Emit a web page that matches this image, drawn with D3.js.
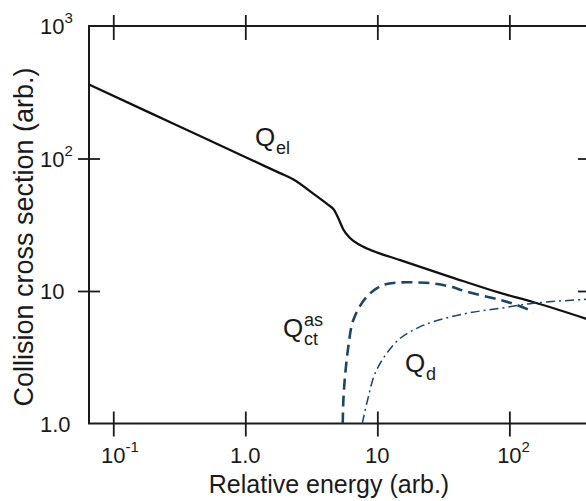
<!DOCTYPE html>
<html><head><meta charset="utf-8">
<script src="https://cdn.jsdelivr.net/npm/d3@7"></script>
<style>body{margin:0;background:#fff}svg{display:block}text{font-family:"Liberation Sans",Arial,sans-serif;fill:#1a1a1a}</style>
</head><body><svg id="c" width="586" height="501"></svg>
<script>
// ---- data ----
const xTickVals = [0.1, 1, 10, 100];
const xTickBase = ["10", "1.0", "10", "10"];
const xTickExp  = ["-1", "", "", "2"];
const yTickVals = [1, 10, 100, 1000];
const yTickBase = ["1.0", "10", "10", "10"];
const yTickExp  = ["", "", "2", "3"];

const elEnergy = [0.0655, 0.190, 0.454, 1.085, 1.83, 2.30, 3.37, 4.16, 4.70, 5.13, 5.50, 6.21, 7.39, 8.36, 14.9, 35.6, 85.1, 151, 408];
const elQ      = [362, 221, 148, 98.8, 77.6, 69.8, 53.1, 45.4, 40.9, 34.4, 29.4, 25.1, 22.2, 20.9, 17.1, 12.8, 9.67, 8.26, 6.04];

const ctEnergy = [5.47, 5.53, 5.69, 6.03, 6.58, 8.32, 11.1, 14.9, 19.9, 26.6, 35.6, 47.6, 85.1, 114, 152];
const ctQ      = [1.0, 1.50, 2.26, 3.80, 6.04, 9.06, 11.1, 11.6, 11.6, 11.4, 10.8, 9.88, 8.55, 7.84, 6.98];

const dEnergy = [7.69, 8.32, 9.61, 11.8, 14.9, 19.9, 26.6, 47.6, 85.1, 152, 408];
const dQ      = [1.0, 1.42, 2.39, 3.39, 4.40, 5.23, 5.87, 6.79, 7.40, 8.08, 8.70];

// ---- layout ----
const svg = d3.select("#c");
const L = 89, R = 590, T = 26, B = 423.5;
const x = d3.scaleLog().domain([0.0655, 408]).range([L, R]);
const y = d3.scaleLog().domain([1, 1000]).range([B, T]);
const ink = "#1a1a1a";

// frame
svg.append("rect").attr("x", L).attr("y", T).attr("width", R - L).attr("height", B - T)
  .attr("fill", "none").attr("stroke", ink).attr("stroke-width", 2);

const gB = svg.append("g").attr("transform", `translate(0,${B})`)
  .call(d3.axisBottom(x).tickValues(xTickVals).tickSize(12).tickFormat(""));
gB.select(".domain").remove();
gB.selectAll(".tick line").attr("y1", -12).attr("y2", 13).attr("stroke", ink).attr("stroke-width", 1.8);

const gT = svg.append("g").attr("transform", `translate(0,${T})`)
  .call(d3.axisTop(x).tickValues(xTickVals).tickSize(12).tickFormat(""));
gT.select(".domain").remove();
gT.selectAll(".tick line").attr("y1", -11).attr("y2", 14).attr("stroke", ink).attr("stroke-width", 1.8);

const innerY = [10, 100];
const gL = svg.append("g").attr("transform", `translate(${L},0)`)
  .call(d3.axisLeft(y).tickValues(innerY).tickSize(11).tickFormat(""));
gL.select(".domain").remove();
gL.selectAll(".tick line").attr("x1", -11).attr("x2", 11).attr("stroke", ink).attr("stroke-width", 1.8);

const gR = svg.append("g").attr("transform", `translate(${R},0)`)
  .call(d3.axisRight(y).tickValues(innerY).tickSize(11).tickFormat(""));
gR.select(".domain").remove();
gR.selectAll(".tick line").attr("x1", -12).attr("x2", 12).attr("stroke", ink).attr("stroke-width", 1.8);

// x tick labels
xTickVals.forEach((v, i) => {
  const t = svg.append("text").attr("x", x(v)).attr("y", 463).attr("font-size", 22)
    .attr("text-anchor", "middle").text(xTickBase[i]);
  if (xTickExp[i]) {
    const w = t.node().getComputedTextLength();
    svg.append("text").attr("x", x(v) + w / 2).attr("y", 452).attr("font-size", 15)
      .text(xTickExp[i]);
  }
});
// y tick labels
yTickVals.forEach((v, i) => {
  const yy = y(v) + 8;
  const t = svg.append("text").attr("x", 40).attr("y", yy).attr("font-size", 22).text(yTickBase[i]);
  if (yTickExp[i]) {
    const w = t.node().getComputedTextLength();
    svg.append("text").attr("x", 40 + w).attr("y", yy - 11).attr("font-size", 15).text(yTickExp[i]);
  }
});

// axis titles
svg.append("text").attr("x", 329).attr("y", 493).attr("font-size", 25)
  .attr("text-anchor", "middle").text("Relative energy (arb.)");
svg.append("text").attr("transform", "translate(33,237) rotate(-90)").attr("font-size", 27)
  .attr("text-anchor", "middle").text("Collision cross section (arb.)");

// curves
svg.append("clipPath").attr("id", "pc").append("rect")
  .attr("x", L).attr("y", T).attr("width", R - L).attr("height", B - T);
const line = d3.line().x(d => x(d[0])).y(d => y(d[1])).curve(d3.curveMonotoneX);
const lineC = d3.line().x(d => x(d[0])).y(d => y(d[1])).curve(d3.curveCatmullRom.alpha(0.5));

svg.append("path").attr("clip-path", "url(#pc)")
  .attr("d", line(elEnergy.map((e, i) => [e, elQ[i]])))
  .attr("fill", "none").attr("stroke", "#111").attr("stroke-width", 2.3);

svg.append("path").attr("clip-path", "url(#pc)")
  .attr("d", lineC(ctEnergy.map((e, i) => [e, ctQ[i]])))
  .attr("fill", "none").attr("stroke", "#1c4566").attr("stroke-width", 2.6)
  .attr("stroke-dasharray", "11,6");

svg.append("path").attr("clip-path", "url(#pc)")
  .attr("d", lineC(dEnergy.map((e, i) => [e, dQ[i]])))
  .attr("fill", "none").attr("stroke", "#1c4566").attr("stroke-width", 1.5)
  .attr("stroke-dasharray", "9,4,2,4");

// curve labels
function qLabel(xq, yq, sub, sup) {
  svg.append("text").attr("x", xq).attr("y", yq).attr("font-size", 26).text("Q");
  if (sub) svg.append("text").attr("x", xq + 21).attr("y", yq + 8).attr("font-size", 18).text(sub);
  if (sup) svg.append("text").attr("x", xq + 21).attr("y", yq - 11).attr("font-size", 18).text(sup);
}
qLabel(255, 146, "el", "");
qLabel(283, 337, "ct", "as");
qLabel(405, 372, "d", "");
</script></body></html>
